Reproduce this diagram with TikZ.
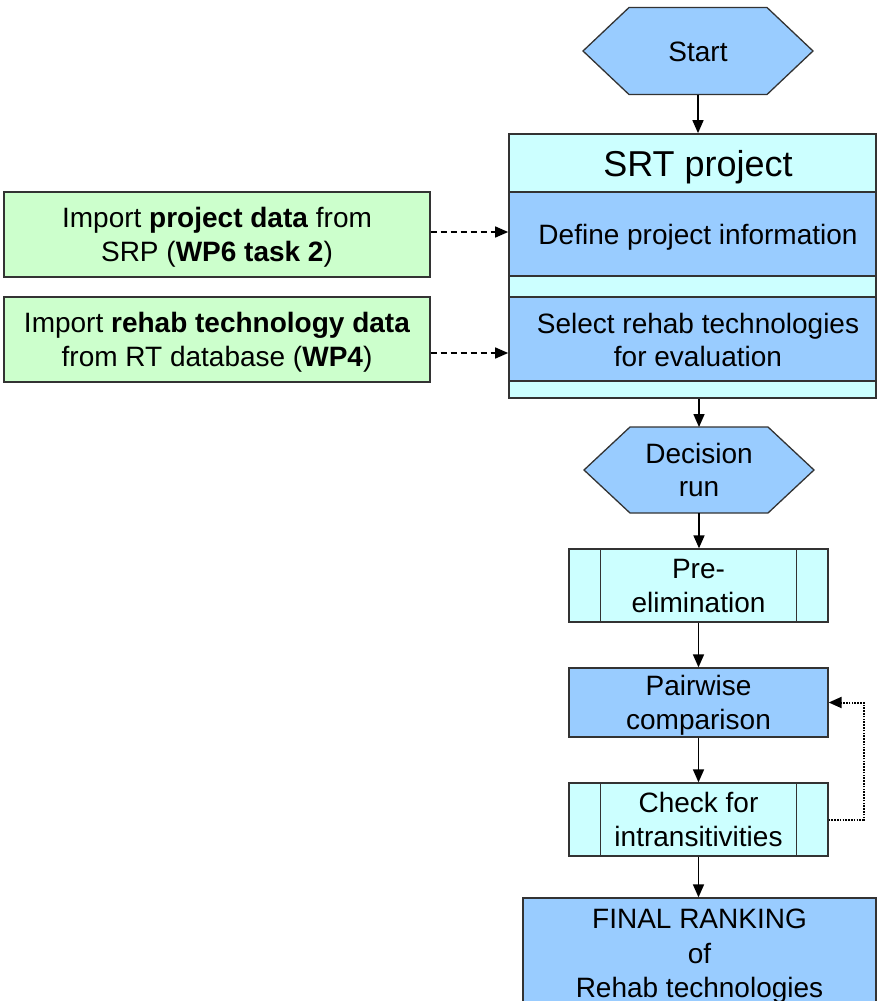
\documentclass[tikz,border=0pt]{standalone}
\usepackage{fontspec}
\setmainfont{Liberation Sans}
\usetikzlibrary{arrows.meta,fit,calc}
\pgfdeclarelayer{bg}
\pgfsetlayers{bg,main}
\definecolor{procblue}{HTML}{99CCFF}
\definecolor{paleblue}{HTML}{CCFFFF}
\definecolor{importgreen}{HTML}{CCFFCC}
\definecolor{edge}{HTML}{333333}
\begin{document}
\begin{tikzpicture}[x=1pt,y=-1pt,
  txt/.style={font=\fontsize{28}{33.6}\selectfont, align=center, inner sep=0pt, text depth=0pt},
  oneline/.style={text height=20pt},
  twolines/.style={text height=53.6pt},
  frame/.style={draw=edge, line width=1.3pt},
  hexlabel/.style={txt, minimum width=138pt, minimum height=87pt, outer sep=0pt},
  band/.style={frame, inner sep=0pt, minimum width=367pt},
  procbox/.style={frame, txt, twolines, fill=procblue, minimum width=259pt},
  subproc/.style={frame, txt, twolines, fill=paleblue, minimum width=259pt},
  importbox/.style={frame, txt, twolines, fill=importgreen, minimum width=426pt, minimum height=85pt},
  flow/.style={line width=1.6pt, -{Triangle[length=13pt,width=11pt]}},
  feed/.style={flow, dash pattern=on 6pt off 4pt},
  loopback/.style={flow, line width=2pt, dash pattern=on 1.6pt off 1.2pt}]
\useasboundingbox (0,0) rectangle (877,1001);
\clip (0,0) rectangle (877,1001);

% start terminal
\node[hexlabel, oneline] (start) at (698,51) {Start};

% SRT project block with its bands
\node[band, fill=paleblue, minimum height=58pt] (title) at (692.5,163) {};
\node[band, fill=procblue, minimum height=84pt] (defband) at (692.5,234) {};
\node[band, fill=paleblue, minimum height=21pt] (gap1) at (692.5,286.5) {};
\node[band, fill=procblue, minimum height=84pt] (selband) at (692.5,339) {};
\node[band, fill=paleblue, minimum height=17pt] (gap2) at (692.5,389.5) {};
\node[fit=(title)(gap2), inner sep=0pt] (srt) {};
\node[txt, font=\fontsize{36}{43}\selectfont, text height=25.8pt] (srtname) at (698,164) {SRT project};
\node[txt, oneline] (define) at (698,234) {Define project information};
\node[txt, twolines] (select) at (698,340) {Select rehab technologies\\for evaluation};

% external imports
\node[importbox] (g1) at (217,234.5) {Import \textbf{project data} from\\SRP (\textbf{WP6 task 2})};
\node[importbox] (g2) at (217,339.5) {Import \textbf{rehab technology data}\\from RT database (\textbf{WP4})};

% decision run
\node[hexlabel, twolines, minimum height=86pt] (dec) at (699,470) {Decision\\run};
\node[subproc, minimum height=73pt] (pre) at (698.5,585.5) {Pre-\\elimination};
\node[procbox, minimum height=69pt] (pair) at (698.5,702.5) {Pairwise\\comparison};
\node[subproc, minimum height=73pt] (check) at (698.5,819.5) {Check for\\intransitivities};
\node[frame, txt, fill=procblue, minimum width=353pt, minimum height=110pt,
      font=\fontsize{28}{34.5}\selectfont, text height=89pt] (final) at (699.5,953) {FINAL RANKING\\of\\Rehab technologies};

% hexagon outlines behind their labels
\begin{pgfonlayer}{bg}
  \foreach \n in {start,dec}
    \draw[frame, fill=procblue] (\n.north west) -- (\n.north east) -- ([xshift=46pt]\n.east)
      -- (\n.south east) -- (\n.south west) -- ([xshift=-46pt]\n.west) -- cycle;
\end{pgfonlayer}

% predefined-process side bars
\foreach \n in {pre,check} {
  \draw[frame] ([xshift=32pt]\n.north west) -- ([xshift=32pt]\n.south west);
  \draw[frame] ([xshift=-32pt]\n.north east) -- ([xshift=-32pt]\n.south east);
}

% main flow
\draw[flow] (start.south) -- (start.south |- srt.north);
\draw[flow] (dec.north |- srt.south) -- (dec.north);
\draw[flow] (dec.south) -- (dec.south |- pre.north);
\draw[flow] (pre.south) -- (pre.south |- pair.north);
\draw[flow] (pair.south) -- (pair.south |- check.north);
\draw[flow] (check.south) -- (check.south |- final.north);

% data imports
\coordinate (a1) at ([yshift=2.5pt]g1.east);
\coordinate (a2) at ([yshift=-13.5pt]g2.east);
\draw[feed] (a1) -- (a1 -| srt.west);
\draw[feed] (a2) -- (a2 -| srt.west);

% intransitivity loop
\coordinate (lp) at ([xshift=35pt]check.east);
\draw[loopback] (check.east) -- (lp) |- (pair.east);
\end{tikzpicture}
\end{document}
